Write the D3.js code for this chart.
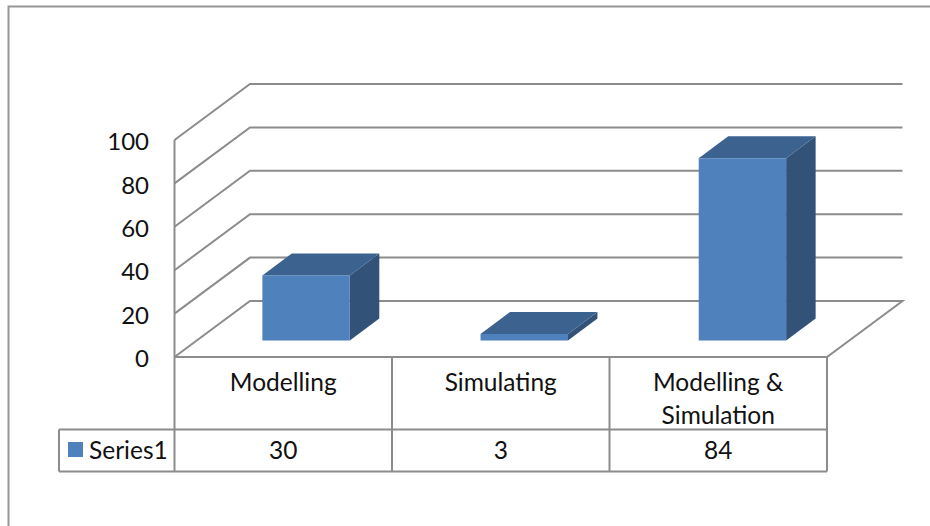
<!DOCTYPE html>
<html>
<head>
<meta charset="utf-8">
<script src="https://cdnjs.cloudflare.com/ajax/libs/d3/7.8.5/d3.min.js"></script>
<style>
  html, body { margin: 0; padding: 0; background: #fff; }
  svg { display: block; }
  text { font-family: Lato, "Open Sans", sans-serif; font-size: 24.5px; fill: #111; }
  .value-axis text { font-size: 24px; }
</style>
</head>
<body>
<svg id="chart" width="930" height="526"></svg>
<script>
// Chart data
const categories = ["Modelling", "Simulating", "Modelling & Simulation"];
const categoryLines = [["Modelling"], ["Simulating"], ["Modelling &", "Simulation"]];
const seriesName = "Series1";
const seriesValues = [30, 3, 84];
const yTicks = [0, 20, 40, 60, 80, 100];

// Palette
const frontColor = "#4f81bd", topColor = "#3c6390", sideColor = "#325278", lineColor = "#8c8c8c";

const svg = d3.select("#chart");

// Plot box and 3D projection
const left = 174.5, right = 827, floorY = 357, topY = 140;
const depthX = 75.5, depthY = 56;
const barDepthX = 29.5, barDepthY = 22;
const barInsetX = (depthX - barDepthX) / 2, barInsetY = 16.5;

const x = d3.scaleBand().domain(categories).range([left, right]);
// The bars sit on a slightly wider span than the table columns
const barX = d3.scaleBand().domain(categories).range([left - 0.5, right + 1.5]);
const y = d3.scaleLinear().domain([0, 100]).range([floorY, topY]);
const barWidth = x.bandwidth() * 0.402;

// Frame around the chart area, open at the right and bottom
svg.append("path")
  .attr("d", "M930,6.5H8.5V526")
  .attr("fill", "none").attr("stroke", "#969696").attr("stroke-width", 2);

// Gridlines: side wall rising to the back wall
const grid = d3.line();
svg.append("g").selectAll("path").data(yTicks.filter(d => d > 0)).join("path")
  .attr("d", d => grid([[left, y(d)], [left + depthX, y(d) - depthY], [right + depthX, y(d) - depthY]]))
  .attr("fill", "none").attr("stroke", lineColor).attr("stroke-width", 2);

// Floor outline
svg.append("path")
  .attr("d", grid([[left, y(0)], [left + depthX, y(0) - depthY], [right + depthX, y(0) - depthY], [right, y(0)], [left, y(0)]]))
  .attr("fill", "#fff").attr("stroke", lineColor).attr("stroke-width", 2);

// Vertical value axis line
svg.append("path")
  .attr("d", grid([[left, y(100)], [left, y(0)]]))
  .attr("fill", "none").attr("stroke", lineColor).attr("stroke-width", 2);

// Value axis labels
const axis = svg.append("g")
  .attr("class", "value-axis")
  .attr("transform", `translate(${left - 25.5},0)`)
  .call(d3.axisLeft(y).tickValues(yTicks).tickSize(0).tickPadding(0));
axis.select(".domain").remove();
axis.selectAll("text").attr("x", 0).attr("dy", "0.4em");
axis.attr("font-family", null).attr("font-size", null);

// Bars as three visible faces of a box
const bars = svg.append("g").selectAll("g").data(categories).join("g");
const geom = (c, i) => {
  const x0 = barX(c) + (barX.bandwidth() - barWidth) / 2 + barInsetX;
  const x1 = x0 + barWidth;
  const yb = y(0) - barInsetY;
  const yt = yb - (y(0) - y(seriesValues[i]));
  return { x0, x1, yb, yt };
};
bars.append("path").attr("fill", sideColor).attr("d", (c, i) => {
  const g = geom(c, i);
  return grid([[g.x1, g.yb], [g.x1 + barDepthX, g.yb - barDepthY], [g.x1 + barDepthX, g.yt - barDepthY], [g.x1, g.yt]]) + "Z";
});
bars.append("path").attr("fill", topColor).attr("d", (c, i) => {
  const g = geom(c, i);
  return grid([[g.x0, g.yt], [g.x0 + barDepthX, g.yt - barDepthY], [g.x1 + barDepthX, g.yt - barDepthY], [g.x1, g.yt]]) + "Z";
});
bars.append("rect").attr("fill", frontColor)
  .attr("x", (c, i) => geom(c, i).x0)
  .attr("y", (c, i) => geom(c, i).yt)
  .attr("width", barWidth)
  .attr("height", (c, i) => geom(c, i).yb - geom(c, i).yt);

// Data table beneath the plot
const rowTop = 429.5, rowBottom = 471.5, tableLeft = 59;
const tableLines = [
  [[left, floorY], [left, rowBottom]],
  [[tableLeft, rowTop], [right, rowTop]],
  [[tableLeft, rowBottom], [right, rowBottom]],
  [[tableLeft, rowTop], [tableLeft, rowBottom]],
  ...categories.map(c => [[x(c) + x.bandwidth(), floorY], [x(c) + x.bandwidth(), rowBottom]])
];
svg.append("g").selectAll("path").data(tableLines).join("path")
  .attr("d", d => grid(d))
  .attr("fill", "none").attr("stroke", lineColor).attr("stroke-width", 2);

// Category names, wrapped on to two lines where needed
const catLabels = svg.append("g").selectAll("text").data(categories).join("text")
  .attr("text-anchor", "middle");
catLabels.selectAll("tspan").data((c, i) => categoryLines[i].map(t => ({ t, c }))).join("tspan")
  .attr("x", d => x(d.c) + x.bandwidth() / 2)
  .attr("y", (d, j) => 391 + j * 32.5)
  .text(d => d.t);

// Value row
svg.append("g").selectAll("text").data(seriesValues).join("text")
  .attr("text-anchor", "middle")
  .attr("x", (d, i) => x(categories[i]) + x.bandwidth() / 2)
  .attr("y", 459)
  .text(d => d);

// Series key
svg.append("rect").attr("x", 68).attr("y", 442).attr("width", 15).attr("height", 15).attr("fill", frontColor);
svg.append("text").attr("x", 89).attr("y", 459).text(seriesName);
</script>
</body>
</html>
